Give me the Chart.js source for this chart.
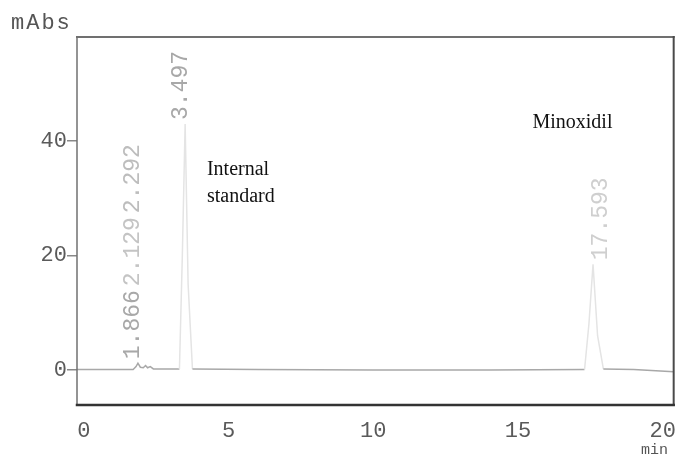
<!DOCTYPE html>
<html><head><meta charset="utf-8">
<script src="https://cdn.jsdelivr.net/npm/chart.js@4"></script>
<style>html,body{margin:0;padding:0;background:#fff;}canvas{display:block;}</style>
</head><body>
<canvas id="c" width="681" height="468"></canvas>
<script>
// ---- data ----
const times      = [-0.24, 1.70, 1.80, 1.866, 1.95, 2.05, 2.129, 2.20, 2.292, 2.40, 3.30, 3.40, 3.497, 3.60, 3.75, 6.0, 10.0, 14.0, 17.30, 17.45, 17.593, 17.75, 17.95, 19.0, 20.38];
const absorbance = [0.1, 0.1, 0.6, 1.2, 0.5, 0.4, 0.8, 0.4, 0.6, 0.2, 0.2, 20, 43, 15, 0.2, 0.1, 0.0, 0.0, 0.1, 8, 18.5, 6, 0.2, 0.1, -0.3];
const peakTimes   = [1.866, 2.129, 2.292, 3.497, 17.593];
const peakHeights = [1.2, 0.8, 0.6, 43, 18.5];
const peakLabels  = ['1.866', '2.129', '2.292', '3.497', '17.593'];
const xTicks = [0, 5, 10, 15, 20];
const yTicks = [0, 20, 40];
const yTitle = 'mAbs';
const xTitle = 'min';
const noteIS = ['Internal', 'standard'];
const noteMin = 'Minoxidil';

const decor = {
  id: 'decor',
  afterDatasetsDraw(chart) {
    const {ctx, chartArea: a, scales: {x, y}} = chart;
    const line = (x1, y1, x2, y2, c, w) => {
      ctx.beginPath(); ctx.strokeStyle = c; ctx.lineWidth = w;
      ctx.moveTo(x1, y1); ctx.lineTo(x2, y2); ctx.stroke();
    };
    ctx.save();
    ctx.lineCap = 'square';
    line(a.left, a.top, a.right, a.top, '#707070', 2);
    line(a.left, a.top, a.left, a.bottom, '#707070', 1.5);
    line(a.right, a.top, a.right, a.bottom, '#4a4a4a', 2);
    line(a.left, a.bottom, a.right, a.bottom, '#333', 2.5);

    // rotated peak labels (stacked when they would overlap)
    ctx.font = '23px "Liberation Mono"';
    ctx.textBaseline = 'middle';
    ctx.textAlign = 'left';
    const colors = ['#a8a8a8', '#c4c4c4', '#bdbdbd', '#a8a8a8', '#cfcfcf'];
    const shift = [-5, -5, -5, -4, 8];
    let prevTop = null, prevX = null;
    peakTimes.forEach((t, i) => {
      let px = x.getPixelForValue(t) + shift[i];
      let py = y.getPixelForValue(peakHeights[i]) - 4;
      const w = ctx.measureText(peakLabels[i]).width;
      if (prevX !== null && Math.abs(px - prevX) < 20 && py > prevTop - 2) {
        py = prevTop - 4; px = prevX;
      }
      ctx.save();
      ctx.translate(px, py);
      ctx.rotate(-Math.PI / 2);
      ctx.fillStyle = colors[i];
      ctx.fillText(peakLabels[i], 0, 0);
      ctx.restore();
      prevTop = py - w; prevX = px;
    });

    // axis titles
    ctx.fillStyle = '#555';
    ctx.font = '22px "Liberation Mono"';
    ctx.letterSpacing = '2px';
    ctx.textAlign = 'left';
    ctx.fillText(yTitle, 11, 23);
    ctx.letterSpacing = '0px';
    ctx.font = '15px "Liberation Mono"';
    ctx.textAlign = 'right';
    ctx.fillText(xTitle, 668, 450);

    // annotations
    ctx.fillStyle = '#111';
    ctx.font = '20px "Liberation Serif"';
    ctx.textAlign = 'left';
    ctx.fillText(noteIS[0], x.getPixelForValue(4.25), y.getPixelForValue(35));
    ctx.fillText(noteIS[1], x.getPixelForValue(4.25), y.getPixelForValue(30.3));
    ctx.fillText(noteMin, x.getPixelForValue(15.5), y.getPixelForValue(43.2));
    ctx.restore();
  }
};

new Chart(document.getElementById('c'), {
  type: 'line',
  data: {
    datasets: [{
      data: times.map((t, i) => ({x: t, y: absorbance[i]})),
      borderColor: '#a8a8a8',
      borderWidth: 1.5,
      pointRadius: 0,
      tension: 0,
      segment: {
        borderColor: c => (c.p0.parsed.y > 3 || c.p1.parsed.y > 3) ? '#e4e4e4' : '#a8a8a8'
      }
    }]
  },
  options: {
    responsive: false,
    devicePixelRatio: 1,
    animation: false,
    layout: {padding: {top: 37, right: 6, left: 0, bottom: 0}},
    plugins: {legend: {display: false}, tooltip: {enabled: false}},
    scales: {
      x: {
        type: 'linear', min: -0.24, max: 20.38,
        afterBuildTicks: s => { s.ticks = xTicks.map(v => ({value: v})); },
        afterFit: s => { s.height = 63; },
        grid: {display: false},
        border: {display: false},
        ticks: {font: {family: 'Liberation Mono', size: 22}, color: '#5a5a5a', padding: 5, maxRotation: 0}
      },
      y: {
        type: 'linear', min: -6.1, max: 58.2,
        afterBuildTicks: s => { s.ticks = yTicks.map(v => ({value: v})); },
        afterFit: s => { s.width = 77; },
        grid: {drawOnChartArea: false, drawTicks: true, tickLength: 10, color: '#888', lineWidth: 1.5},
        border: {display: false},
        ticks: {font: {family: 'Liberation Mono', size: 22}, color: '#5a5a5a', padding: 0}
      }
    }
  },
  plugins: [decor]
});
</script>
</body></html>
